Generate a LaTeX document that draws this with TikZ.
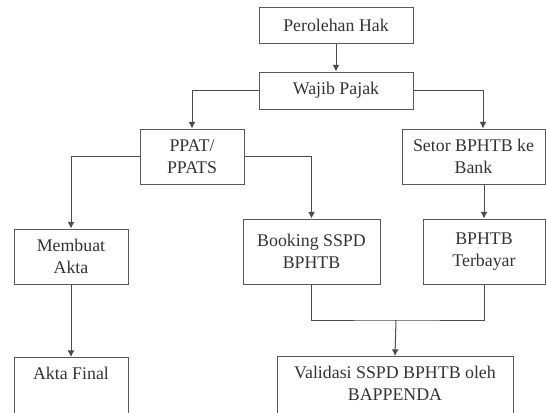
\documentclass[tikz,border=0pt]{standalone}
\usepackage{fontspec}
\setmainfont{Liberation Serif}
\usetikzlibrary{arrows.meta}

\begin{document}
\begin{tikzpicture}[x=0.6pt,y=-0.6pt,
  flowbox/.style 2 args={draw=black!65, line width=0.6pt, inner sep=0pt, align=center,
    text=black!80, font=\fontsize{10.7}{13.2}\selectfont,
    minimum width=#1*0.6pt, minimum height=#2*0.6pt},
  flowline/.style={draw=black!70, line width=0.6pt},
  flowarrow/.style={flowline, -{Latex[length=4pt,width=4.2pt]}}]
  \useasboundingbox (0,0) rectangle (546,412);
  \clip (0,0) rectangle (546,412);

  % boxes
  \node[flowbox={154}{36}] (hak) at (336,25) {Perolehan Hak};
  \node[flowbox={154}{37}] (wajib) at (336,90.5) {Wajib Pajak};
  \node[flowbox={104}{55}] (ppat) at (192,156.5) {PPAT/\\PPATS};
  \node[flowbox={143}{55}] (setor) at (473.5,156.5) {Setor BPHTB ke\\Bank};
  \node[flowbox={114}{55}] (membuat) at (71,256.5) {Membuat\\Akta};
  \node[flowbox={137}{65}] (booking) at (311.5,251.5) {Booking SSPD\\BPHTB};
  \node[flowbox={122}{65}] (terbayar) at (484,251.5) {BPHTB\\Terbayar};
  \node[flowbox={114}{0}, anchor=north, text height=13.2pt, text depth=40pt] (final) at (71,357) {Akta Final};
  \node[flowbox={236}{0}, anchor=north, text height=26.4pt, text depth=30pt] (validasi) at (395,356) {Validasi SSPD BPHTB oleh\\BAPPENDA};
  \coordinate (merge) at (396,320);

  % connectors
  \draw[flowarrow] (hak) -- (wajib);
  \draw[flowarrow] (wajib.west) -| (ppat.north);
  \draw[flowarrow] (wajib.east) -| ([xshift=5.7pt]setor.north);
  \draw[flowarrow] (ppat.west) -| (membuat.north);
  \draw[flowarrow] (ppat.east) -| (booking.north);
  \draw[flowarrow] (terbayar.north |- setor.south) -- (terbayar.north);
  \draw[flowarrow] (membuat) -- (final);
  \draw[flowline] (booking.south) |- (merge) -| (terbayar.south);
  \draw[flowarrow] (merge) -- (validasi.north);
\end{tikzpicture}
\end{document}
